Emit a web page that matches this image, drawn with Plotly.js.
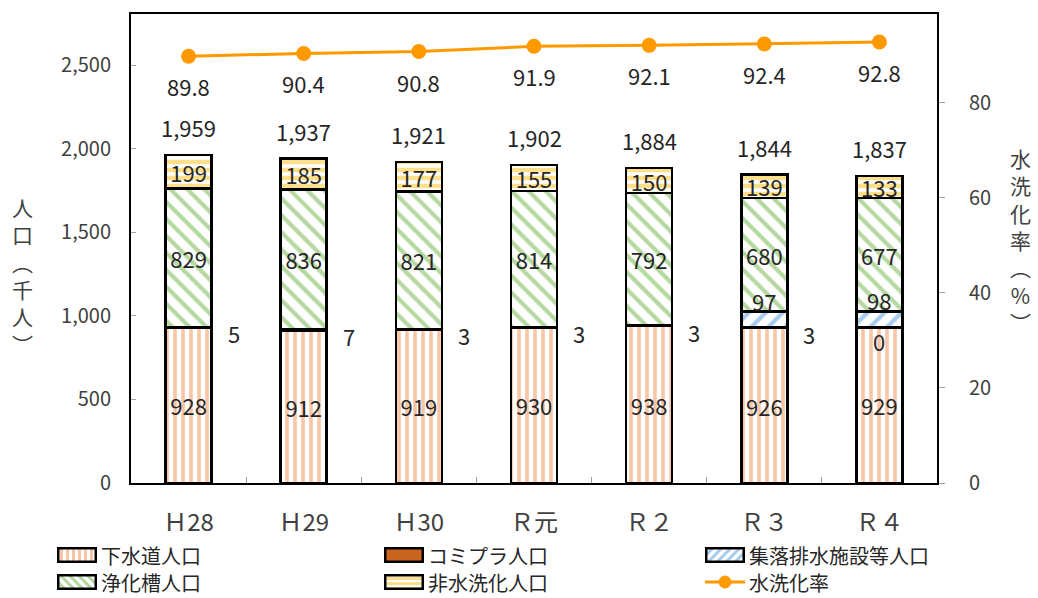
<!DOCTYPE html>
<html>
<head>
<meta charset="utf-8">
<script src="https://cdn.plot.ly/plotly-3.0.1.min.js"></script>
<style>html,body{margin:0;padding:0;background:#fff;}#chart{width:1038px;height:598px;}</style>
</head>
<body>
<div id="chart"></div>
<script>
const categories = ["Ｈ28", "Ｈ29", "Ｈ30", "Ｒ元", "Ｒ２", "Ｒ３", "Ｒ４"];
const gesui = [928, 912, 919, 930, 938, 926, 929];
const comipla = [5, 7, 3, 3, 3, 3, 0];
const shuraku = [0, 0, 0, 0, 0, 97, 98];
const jokaso = [829, 836, 821, 814, 792, 680, 677];
const hisuisen = [199, 185, 177, 155, 150, 139, 133];
const totals = [1959, 1937, 1921, 1902, 1884, 1844, 1837];
const rate = [89.8, 90.4, 90.8, 91.9, 92.1, 92.4, 92.8];
const seriesNames = ["下水道人口", "コミプラ人口", "集落排水施設等人口", "浄化槽人口", "非水洗化人口", "水洗化率"];

const FONT = "'Noto Sans CJK JP', 'Noto Sans', sans-serif";
const TXT = "#262626";
const outline = {color: "#000", width: 2.5};
const labelFont = {family: FONT, size: 22, color: TXT};

const COL = {gesui: "#f8c6a6", comi: "#c9651f", shu: "#a6cbec", jo: "#b5d8a0", hi: "#ffe08a", rate: "#ff9900"};
const PAT = {
  gesui: {shape: "|", fgcolor: COL.gesui, bgcolor: "#fff", size: 8, solidity: 0.45},
  shu: {shape: "/", fgcolor: COL.shu, bgcolor: "#fff", size: 12, solidity: 0.35},
  jo: {shape: "\\", fgcolor: COL.jo, bgcolor: "#fff", size: 12, solidity: 0.35},
  hi: {shape: "-", fgcolor: COL.hi, bgcolor: "#fff", size: 8, solidity: 0.55}
};

function barTrace(name, vals, pattern, showText) {
  return {
    type: "bar", name: name, x: categories, y: vals,
    marker: {color: "#fff", line: outline, pattern: pattern},
    text: showText ? vals.map(String) : undefined,
    textposition: showText ? "inside" : "none",
    insidetextanchor: "middle", textangle: 0, constraintext: "none",
    textfont: labelFont, showlegend: false
  };
}

const traces = [
  barTrace(seriesNames[0], gesui, PAT.gesui, true),
  {type: "bar", name: seriesNames[1], x: categories, y: comipla,
   marker: {color: COL.comi, line: outline}, textposition: "none", showlegend: false},
  barTrace(seriesNames[2], shuraku, PAT.shu, false),
  barTrace(seriesNames[3], jokaso, PAT.jo, true),
  barTrace(seriesNames[4], hisuisen, PAT.hi, true),
  {type: "scatter", mode: "lines+markers", name: seriesNames[5], x: categories, y: rate, yaxis: "y2",
   line: {color: COL.rate, width: 3}, marker: {color: COL.rate, size: 15}, showlegend: false}
];

const annotations = [];
categories.forEach((c, i) => {
  annotations.push({x: c, y: totals[i], xref: "x", yref: "y", text: totals[i].toLocaleString("en-US"),
    showarrow: false, yshift: 28, font: labelFont});
  annotations.push({x: c, y: rate[i], xref: "x", yref: "y2", text: rate[i].toFixed(1),
    showarrow: false, yshift: -30, font: labelFont});
  if (comipla[i] > 0) {
    annotations.push({x: c, y: gesui[i] + comipla[i] / 2, xref: "x", yref: "y", text: String(comipla[i]),
      showarrow: false, xshift: 45, yshift: -6, font: labelFont});
  } else {
    annotations.push({x: c, y: gesui[i], xref: "x", yref: "y", text: String(comipla[i]),
      showarrow: false, yshift: -13, font: labelFont});
  }
  if (shuraku[i] > 0) {
    annotations.push({x: c, y: gesui[i] + comipla[i] + shuraku[i] / 2, xref: "x", yref: "y", text: String(shuraku[i]),
      showarrow: false, yshift: 19, font: labelFont});
  }
});
const titleFont = {family: FONT, size: 21, color: "#404040"};
annotations.push({xref: "paper", yref: "paper", x: -0.135, y: 0.443, xanchor: "center", yanchor: "middle",
  text: "人<br>口<br>︵<br>千<br>人<br>︶", showarrow: false, font: titleFont});
annotations.push({xref: "paper", yref: "paper", x: 1.103, y: 0.518, xanchor: "center", yanchor: "middle",
  text: "水<br>洗<br>化<br>率<br>︵<br>%<br>︶", showarrow: false, font: titleFont});

// ---- manual legend (layout only) ----
const W = 1038, H = 598, ML = 131, MR = 101, MT = 14, MB = 115;
const PW = W - ML - MR, PH = H - MT - MB;
const px = v => (v - ML) / PW;
const py = v => (H - MB - v) / PH;

function swatchSVG(kind, color) {
  let inner = "";
  if (kind === "solid") inner = `<rect x="0" y="0" width="40" height="16" fill="${color}"/>`;
  if (kind === "v") for (let x = 3; x < 40; x += 6) inner += `<rect x="${x}" y="0" width="3" height="16" fill="${color}"/>`;
  if (kind === "h") for (let y = 3; y < 16; y += 5) inner += `<rect x="0" y="${y}" width="40" height="3" fill="${color}"/>`;
  if (kind === "f") for (let x = -16; x < 44; x += 9) inner += `<line x1="${x}" y1="16" x2="${x + 16}" y2="0" stroke="${color}" stroke-width="3"/>`;
  if (kind === "b") for (let x = -16; x < 44; x += 9) inner += `<line x1="${x}" y1="0" x2="${x + 16}" y2="16" stroke="${color}" stroke-width="3"/>`;
  const svg = `<svg xmlns="http://www.w3.org/2000/svg" width="40" height="16" viewBox="0 0 40 16">` +
    `<rect x="0" y="0" width="40" height="16" fill="#fff"/>${inner}` +
    `<rect x="1.25" y="1.25" width="37.5" height="13.5" fill="none" stroke="#000" stroke-width="2.5"/></svg>`;
  return "data:image/svg+xml;charset=utf-8," + encodeURIComponent(svg);
}

const legendItems = [
  {name: seriesNames[0], kind: "v", color: COL.gesui, col: 0, row: 0},
  {name: seriesNames[1], kind: "solid", color: COL.comi, col: 1, row: 0},
  {name: seriesNames[2], kind: "f", color: COL.shu, col: 2, row: 0},
  {name: seriesNames[3], kind: "b", color: COL.jo, col: 0, row: 1},
  {name: seriesNames[4], kind: "h", color: COL.hi, col: 1, row: 1},
  {name: seriesNames[5], kind: "line", color: COL.rate, col: 2, row: 1}
];
const colX = [57, 384, 705];
const rowY = [555, 582];
const images = [];
const shapes = [];
legendItems.forEach(it => {
  const x0 = colX[it.col], yc = rowY[it.row];
  if (it.kind === "line") {
    shapes.push({type: "line", xref: "paper", yref: "paper", x0: px(x0), x1: px(x0 + 40), y0: py(yc), y1: py(yc),
      line: {color: it.color, width: 3}});
    shapes.push({type: "circle", xref: "paper", yref: "paper", x0: px(x0 + 14), x1: px(x0 + 26), y0: py(yc + 6), y1: py(yc - 6),
      fillcolor: it.color, line: {color: it.color, width: 1}});
  } else {
    images.push({source: swatchSVG(it.kind, it.color), xref: "paper", yref: "paper",
      x: px(x0), y: py(yc - 8), sizex: 40 / PW, sizey: 16 / PH, sizing: "stretch", xanchor: "left", yanchor: "top", layer: "above"});
  }
  annotations.push({xref: "paper", yref: "paper", x: px(x0 + 42), y: py(yc), xanchor: "left", yanchor: "middle",
    text: it.name, showarrow: false, font: {family: FONT, size: 20, color: TXT}});
});

const tickFont = {family: FONT, size: 20, color: "#404040"};
const layout = {
  width: W, height: H,
  margin: {l: ML, r: MR, t: MT, b: MB},
  paper_bgcolor: "#fff", plot_bgcolor: "#fff",
  barmode: "stack", bargap: 0.6,
  font: {family: FONT, color: TXT},
  showlegend: false,
  xaxis: {type: "category", showline: true, linecolor: "#000", linewidth: 2, mirror: true,
    ticks: "inside", tickson: "boundaries", ticklen: 6, tickcolor: "#a0a0a0",
    tickfont: {family: FONT, size: 24, color: "#404040"}, ticklabelstandoff: 17, showgrid: false},
  yaxis: {range: [0, 2805], tickvals: [0, 500, 1000, 1500, 2000, 2500], tickformat: ",",
    showline: true, linecolor: "#000", linewidth: 2, mirror: true,
    ticks: "inside", ticklen: 5, tickcolor: "#a0a0a0", tickfont: tickFont, ticklabelstandoff: 14,
    showgrid: false, zeroline: false},
  yaxis2: {overlaying: "y", side: "right", range: [0, 98.7], tickvals: [0, 20, 40, 60, 80],
    showline: true, linecolor: "#000", linewidth: 2,
    ticks: "outside", ticklen: 6, tickcolor: "#a0a0a0", tickfont: tickFont, ticklabelstandoff: 20,
    showgrid: false, zeroline: false},
  annotations: annotations, images: images, shapes: shapes
};

Plotly.newPlot("chart", traces, layout, {displayModeBar: false, staticPlot: true});
</script>
</body>
</html>
